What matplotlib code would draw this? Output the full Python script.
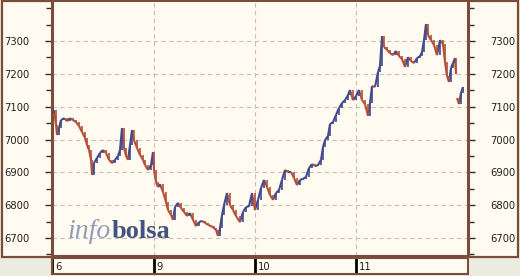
import numpy as np
import matplotlib
matplotlib.use("Agg")
import matplotlib.pyplot as plt
from matplotlib.patches import Rectangle
from matplotlib.collections import LineCollection
from matplotlib.ticker import MultipleLocator

# ---- data (5-minute bar number since start, closing level) ----
bar_no = [0, 2, 4, 5, 7, 9, 12, 15, 18, 21, 24, 27, 30, 33, 35, 37, 39, 40, 42, 45,
          48, 51, 54, 57, 60, 63, 66, 68, 70, 72, 74, 76, 78, 80, 82, 85, 88, 91, 93, 96,
          99, 101, 102, 104, 106, 108, 111, 114, 116, 119, 121, 123, 126, 129, 132, 135, 138, 141, 144, 147,
          150, 153, 156, 159, 162, 164, 166, 168, 170, 172, 175, 178, 181, 184, 188, 191, 194, 197, 200, 203,
          206, 209, 212, 215, 218, 221, 224, 227, 230, 233, 236, 239, 242, 245, 248, 251, 254, 257, 260, 263,
          266, 269, 271, 273, 276, 278, 281, 284, 287, 290, 293, 296, 298, 301, 304, 307, 310, 313, 316, 318,
          320, 323, 326, 328, 330, 332, 335, 338, 341, 344, 347, 350, 353, 356, 359, 362, 365, 368, 370, 372,
          374, 376, 379, 382, 385, 388, 391, 393, 395, 397, 399, 401, 403, 404,
          405, 405, 407, 409, 411]
close = [7081, 7090, 7044, 7014, 7035, 7059, 7065, 7056, 7065, 7059, 7053, 7041, 7023, 7005, 6983, 6968, 6938, 6892, 6928, 6944,
         6959, 6968, 6959, 6938, 6928, 6938, 6950, 6968, 7035, 6974, 6950, 6938, 6983, 7029, 6998, 6974, 6953, 6938, 6922, 6907,
         6922, 6962, 6907, 6870, 6855, 6864, 6840, 6810, 6785, 6770, 6755, 6794, 6807, 6791, 6779, 6767, 6776, 6755, 6736, 6748,
         6752, 6746, 6740, 6736, 6730, 6724, 6706, 6730, 6770, 6800, 6837, 6800, 6785, 6767, 6748, 6779, 6794, 6797, 6837, 6785,
         6816, 6852, 6877, 6855, 6831, 6816, 6837, 6846, 6877, 6907, 6901, 6901, 6883, 6861, 6877, 6880, 6886, 6913, 6925, 6919,
         6922, 6938, 6977, 6998, 7011, 7047, 7053, 7075, 7096, 7111, 7120, 7135, 7151, 7120, 7132, 7151, 7120, 7108, 7072, 7111,
         7163, 7160, 7206, 7224, 7315, 7282, 7273, 7263, 7257, 7270, 7254, 7245, 7221, 7251, 7239, 7233, 7248, 7254, 7266, 7303,
         7352, 7318, 7303, 7288, 7257, 7303, 7291, 7236, 7193, 7175, 7218, 7233, 7248, 7199,
         np.nan, 7126, 7108, 7142, 7160]
day_labels = ["6", "9", "10", "11"]
day_start_bar = [0, 101.5, 203, 303.7]
y_ticks = [6700, 6800, 6900, 7000, 7100, 7200, 7300]

# ---- style ----
cream = "#fffbf0"
grey = "#ecebe0"
brown = "#7a4c3c"
up_col = "#424a8c"
down_col = "#b4503a"

fig = plt.figure(figsize=(5.2, 2.76), dpi=100, facecolor=grey)
W, H = 520.0, 276.0

# outer framed panel
fig.patches.append(Rectangle((1.5 / W, (H - 257) / H), 516 / W, 256 / H,
                             transform=fig.transFigure, facecolor=cream,
                             edgecolor=brown, lw=1.6, zorder=-5))

ax = fig.add_axes([52 / W, (H - 256) / H, 416 / W, 254 / H])
ax.set_zorder(2)
ax.set_facecolor(cream)
ax.set_xlim(0, 416)
ax.set_ylim(6645, 7419)

# price segments, coloured by direction
x = np.array(bar_no, dtype=float)
c = np.array(close, dtype=float)
segs, cols, ticks, tcols = [], [], [], []
for i in range(1, len(c)):
    o, cl = c[i - 1], c[i]
    if np.isnan(o) or np.isnan(cl):
        continue
    col = up_col if cl >= o else down_col
    segs.append([(x[i - 1], o), (x[i], cl)])
    cols.append(col)
    ticks.append([(x[i], min(o, cl)), (x[i], max(o, cl))])
    tcols.append(col)
ax.add_collection(LineCollection(segs, colors=cols, linewidths=1.5, zorder=3))
ax.add_collection(LineCollection(ticks, colors=tcols, linewidths=1.2, zorder=3))

# grid
for d in day_start_bar[1:]:
    ax.axvline(d, color="#c6c2ba", lw=0.8, ls=(0, (4, 3)), zorder=1)
for yv in y_ticks:
    ax.axhline(yv, color="#c6c2ba", lw=0.8, ls=(0, (4, 3)), zorder=1)

ax.set_xticks([])
ax.set_yticks(y_ticks)
ax.yaxis.set_minor_locator(MultipleLocator(50))
ax.tick_params(axis="y", which="both", left=True, right=True, labelleft=True,
               labelright=True, direction="out", color="#3a2a20", width=1.0)
ax.tick_params(axis="y", which="major", length=5, pad=11, labelsize=7.2, labelcolor="#202020")
ax.tick_params(axis="y", which="minor", length=4)

for s in ["left", "right"]:
    ax.spines[s].set_color(brown)
    ax.spines[s].set_linewidth(2.2)
ax.spines["top"].set_visible(False)
ax.spines["bottom"].set_color(brown)
ax.spines["bottom"].set_linewidth(1.5)

# watermark
ax.text(0.036, 0.072, "info", transform=ax.transAxes, fontsize=20,
        family="Liberation Serif", style="italic", color="#959bbb", zorder=2)
ax.text(0.144, 0.072, "bolsa", transform=ax.transAxes, fontsize=19,
        family="Liberation Serif", weight="bold", color="#44527f", zorder=2)

# date strip
ax2 = fig.add_axes([52 / W, 2 / H, 416 / W, 16 / H])
ax2.set_zorder(2)
ax2.set_facecolor(cream)
ax2.set_xlim(0, 416)
ax2.set_ylim(0, 1)
ax2.set_xticks([])
ax2.set_yticks([])
for s in ax2.spines.values():
    s.set_color(brown)
    s.set_linewidth(1.5)
for d, lab in zip(day_start_bar, day_labels):
    ax2.axvline(d, color="black", lw=2.0)
    ax2.text(d + 3, 0.45, lab, fontsize=7.2, color="#202020", va="center", ha="left")

fig.savefig("out.png", dpi=100, facecolor=grey)
